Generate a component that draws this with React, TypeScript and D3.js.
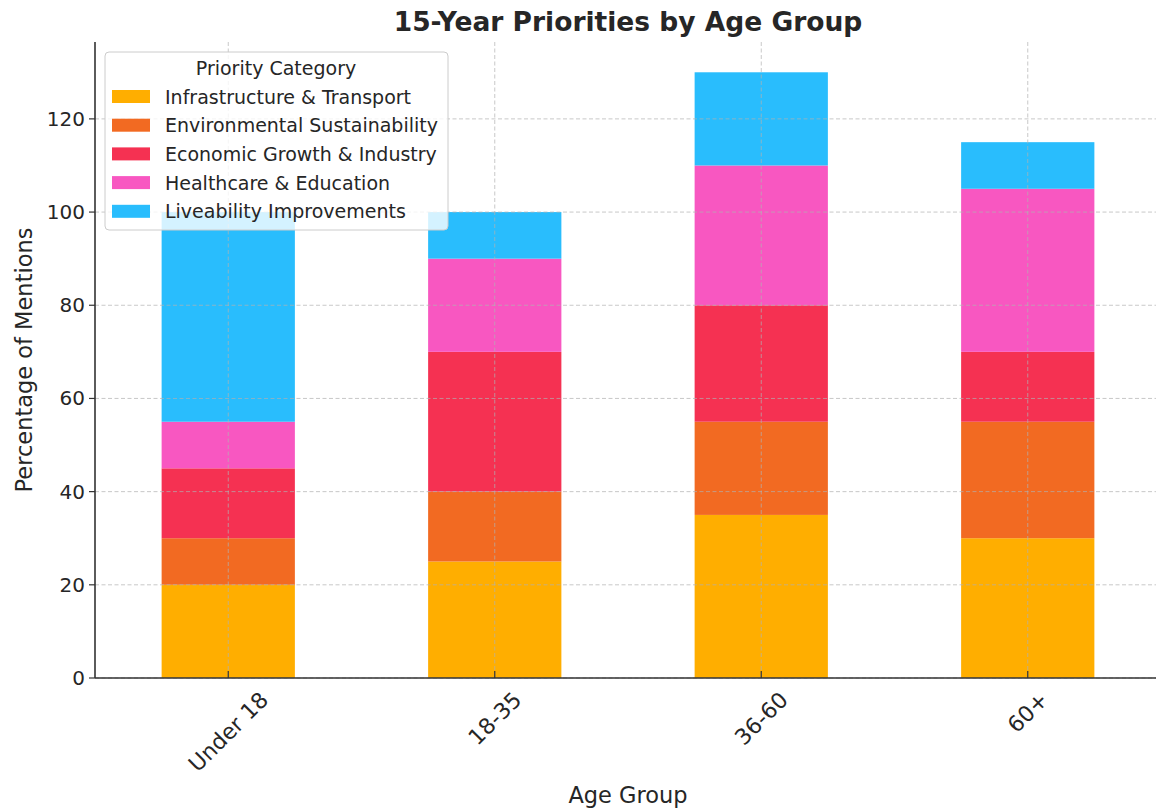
import React from "react";
import * as d3 from "d3";

const ageGroups = ["Under 18", "18-35", "36-60", "60+"];
const categories = [
  "Infrastructure & Transport",
  "Environmental Sustainability",
  "Economic Growth & Industry",
  "Healthcare & Education",
  "Liveability Improvements",
];
const colors = ["#FFAE00", "#F26A22", "#F53152", "#F857C1", "#29BDFD"];
const infrastructure = [20, 25, 35, 30];
const environmental = [10, 15, 20, 25];
const economic = [15, 30, 25, 15];
const healthcare = [10, 20, 30, 35];
const liveability = [45, 10, 20, 10];
const yTicks = [0, 20, 40, 60, 80, 100, 120];

const W = 1156;
const H = 809;
const left = 95;
const right = 1161;
const top = 42;
const bottom = 678;
const FONT = "DejaVu Sans, sans-serif";
const XTICK_FS = 22;

function measure(text: string, fs: number): number {
  try {
    const c = document.createElement("canvas").getContext("2d");
    if (c) {
      c.font = `${fs}px "DejaVu Sans"`;
      return c.measureText(text).width;
    }
  } catch (e) {}
  return text.length * fs * 0.6;
}

export default function App() {
  const series = [infrastructure, environmental, economic, healthcare, liveability];
  const rows = ageGroups.map((g, i) => {
    const r: any = { group: g };
    categories.forEach((c, k) => (r[c] = series[k][i]));
    return r;
  });
  const stacked = d3.stack().keys(categories)(rows);
  const maxTotal = d3.max(rows, (r: any) => d3.sum(categories, (c) => r[c])) as number;

  const x = d3.scaleBand().domain(ageGroups).range([left, right]).paddingInner(0.5).paddingOuter(0.25);
  const y = d3.scaleLinear().domain([0, maxTotal * 1.05]).range([bottom, top]);
  const bw = x.bandwidth();
  const cx = (g: string) => (x(g) as number) + bw / 2;

  return (
    <svg width={W} height={H} style={{ position: "absolute", left: 0, top: 0, background: "#fff" }} fontFamily={FONT}>
      {/* bars */}
      {stacked.map((s, k) =>
        s.map((d, i) => (
          <rect
            key={`${k}-${i}`}
            x={x(ageGroups[i])}
            y={y(d[1])}
            width={bw}
            height={y(d[0]) - y(d[1])}
            fill={colors[k]}
          />
        ))
      )}
      {/* grid */}
      {yTicks.map((t) => (
        <line key={"gy" + t} x1={left} x2={right} y1={y(t)} y2={y(t)} stroke="#b0b0b0" strokeOpacity={0.7} strokeDasharray="4,2.5" strokeWidth={1} />
      ))}
      {ageGroups.map((g) => (
        <line key={"gx" + g} x1={cx(g)} x2={cx(g)} y1={top} y2={bottom} stroke="#b0b0b0" strokeOpacity={0.7} strokeDasharray="4,2.5" strokeWidth={1} />
      ))}
      {/* axes */}
      <line x1={left} x2={left} y1={top} y2={bottom} stroke="#333" strokeWidth={1.6} />
      <line x1={left} x2={right} y1={bottom} y2={bottom} stroke="#333" strokeWidth={1.6} />
      {yTicks.map((t) => (
        <g key={"ty" + t}>
          <line x1={left - 6} x2={left} y1={y(t)} y2={y(t)} stroke="#333" strokeWidth={1.2} />
          <text x={left - 10} y={y(t)} dy="0.35em" textAnchor="end" fontSize={20} fill="#262626">
            {t}
          </text>
        </g>
      ))}
      {ageGroups.map((g) => {
        const w = measure(g, XTICK_FS);
        const h = XTICK_FS * 0.75;
        const cy = 690 + (w + h) / (2 * Math.SQRT2);
        return (
          <g key={"tx" + g}>
            <line x1={cx(g)} x2={cx(g)} y1={bottom} y2={bottom - 7} stroke="#333" strokeWidth={1.2} />
            <text
              transform={`translate(${cx(g)},${cy}) rotate(-45)`}
              textAnchor="middle"
              dy="0.35em"
              fontSize={XTICK_FS}
              fill="#262626"
            >
              {g}
            </text>
          </g>
        );
      })}
      {/* labels */}
      <text x={628} y={31} textAnchor="middle" fontSize={26.5} fontWeight="bold" fill="#262626">
        15-Year Priorities by Age Group
      </text>
      <text x={628} y={803} textAnchor="middle" fontSize={22.5} fill="#262626">
        Age Group
      </text>
      <text transform={`translate(32,${(top + bottom) / 2}) rotate(-90)`} textAnchor="middle" fontSize={22.5} fill="#262626">
        Percentage of Mentions
      </text>
      {/* legend */}
      <g>
        <rect x={105} y={52} width={343} height={178} rx={4} fill="#fff" fillOpacity={0.8} stroke="#cccccc" strokeWidth={1} />
        <text x={276} y={68} dy="0.35em" textAnchor="middle" fontSize={19} fill="#262626">
          Priority Category
        </text>
        {categories.map((c, k) => (
          <g key={"lg" + c}>
            <rect x={112} y={90 + k * 28.7} width={38} height={13} fill={colors[k]} />
            <text x={165} y={97 + k * 28.7} dy="0.35em" fontSize={19} fill="#262626">
              {c}
            </text>
          </g>
        ))}
      </g>
    </svg>
  );
}
